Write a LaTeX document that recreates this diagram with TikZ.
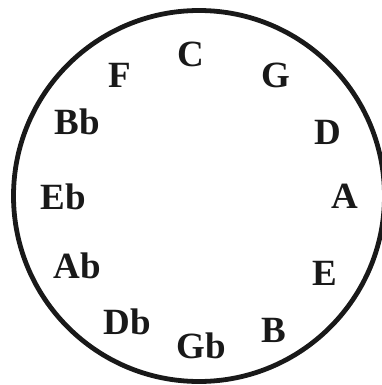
\documentclass[tikz,border=0pt]{standalone}
\usepackage{fontspec}
\setmainfont{Liberation Serif}
\begin{document}
\begin{tikzpicture}[x=1pt,y=-1pt,
  key/.style={anchor=base,inner sep=0pt,font=\fontsize{37}{37}\selectfont\bfseries,text=black!90}]
\useasboundingbox (0,0) rectangle (382,385);
\draw[line width=4.8pt,black!90] (199,196) circle[radius=185.5];
\node[key] (C) at (191,67) {C};
\node[key] (G) at (276,88) {G};
\node[key] (D) at (328,144) {D};
\node[key] (A) at (345,208) {A};
\node[key] (E) at (325,285) {E};
\node[key] (B) at (274,342) {B};
\node[key] (Gb) at (201,358) {Gb};
\node[key] (Db) at (127,334) {Db};
\node[key] (Ab) at (77,278) {Ab};
\node[key] (Eb) at (63,209) {Eb};
\node[key] (Bb) at (77,135) {Bb};
\node[key] (F) at (120,88) {F};
\end{tikzpicture}
\end{document}
